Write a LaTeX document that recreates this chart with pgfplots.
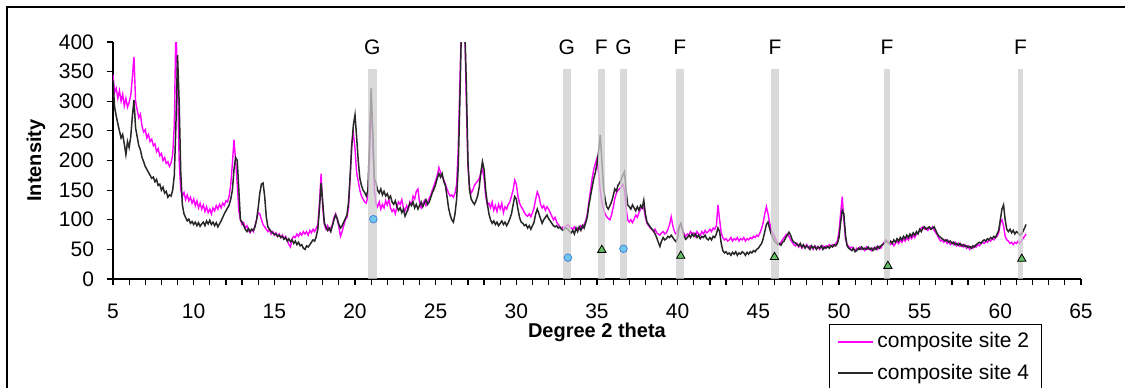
\documentclass[border=0pt]{standalone}
\usepackage{pgfplots}
\pgfplotsset{compat=1.18}
\usepackage{pgfplotstable}
\usepackage{fontspec}
\setmainfont{Liberation Sans}
\definecolor{magc}{RGB}{255,0,255}
\definecolor{blkc}{RGB}{40,40,40}
\definecolor{bandc}{RGB}{205,205,205}
\definecolor{circfill}{RGB}{110,200,235}
\definecolor{circdraw}{RGB}{70,130,220}
\definecolor{trifill}{RGB}{100,190,100}
\pgfplotstableread{
x m b
5.0 345 335
5.1 315 290
5.2 322 275
5.3 305 262
5.4 318 250
5.5 300 238
5.6 312 244
5.7 292 228
5.8 305 210
5.9 290 232
6.0 298 222
6.1 310 240
6.2 340 275
6.3 375 302
6.4 300 255
6.5 285 240
6.6 272 225
6.7 278 218
6.8 258 205
6.9 248 198
7.0 252 190
7.1 238 185
7.2 244 180
7.3 232 175
7.4 236 170
7.5 225 172
7.6 228 164
7.7 215 168
7.8 220 158
7.9 208 160
8.0 212 150
8.1 200 155
8.2 205 145
8.3 195 148
8.4 198 138
8.5 190 142
8.6 196 140
8.7 210 150
8.8 260 175
8.9 430 260
9.0 330 378
9.1 200 300
9.2 150 180
9.3 140 125
9.4 146 110
9.5 134 104
9.6 142 98
9.7 132 101
9.8 138 94
9.9 128 97
10.0 135 92
10.1 124 96
10.2 132 90
10.3 120 95
10.4 128 89
10.5 118 93
10.6 125 96
10.7 114 90
10.8 122 98
10.9 112 93
11.0 118 99
11.1 110 92
11.2 120 96
11.3 115 90
11.4 124 95
11.5 118 88
11.6 126 93
11.7 120 98
11.8 128 104
11.9 124 110
12.0 132 115
12.1 130 120
12.2 140 125
12.3 160 135
12.4 195 150
12.5 235 185
12.6 200 205
12.7 160 200
12.8 115 150
12.9 100 100
13.0 92 96
13.1 95 90
13.2 86 84
13.3 90 80
13.4 82 85
13.5 78 80
13.6 84 84
13.7 80 82
13.8 90 88
13.9 100 100
14.0 112 120
14.1 110 145
14.2 100 160
14.3 92 162
14.4 88 140
14.5 84 105
14.6 80 88
14.7 84 84
14.8 76 80
14.9 80 78
15.0 74 75
15.1 78 76
15.2 72 72
15.3 76 74
15.4 70 70
15.5 74 72
15.6 68 67
15.7 72 70
15.8 66 64
15.9 58 68
16.0 54 63
16.1 68 66
16.2 72 60
16.3 70 64
16.4 76 58
16.5 72 62
16.6 78 56
16.7 74 58
16.8 80 52
16.9 76 50
17.0 80 56
17.1 74 54
17.2 82 58
17.3 78 62
17.4 84 66
17.5 80 64
17.6 86 72
17.7 92 85
17.8 130 120
17.9 178 162
18.0 120 130
18.1 92 95
18.2 84 88
18.3 90 82
18.4 82 86
18.5 86 80
18.6 92 90
18.7 104 100
18.8 110 108
18.9 100 102
19.0 88 92
19.1 72 86
19.2 80 90
19.3 90 96
19.4 100 102
19.5 104 108
19.6 120 130
19.7 170 175
19.8 230 225
19.9 246 260
20.0 220 277
20.1 180 240
20.2 165 200
20.3 150 170
20.4 140 158
20.5 135 150
20.6 130 146
20.7 128 140
20.8 140 150
20.9 200 230
21.0 310 322
21.1 230 250
21.2 150 170
21.3 128 162
21.4 122 150
21.5 130 145
21.6 118 152
21.7 126 142
21.8 120 148
21.9 132 140
22.0 125 144
22.1 135 136
22.2 120 140
22.3 114 130
22.4 118 126
22.5 110 132
22.6 122 122
22.7 130 116
22.8 126 120
22.9 134 112
23.0 120 118
23.1 115 106
23.2 124 112
23.3 118 120
23.4 130 128
23.5 125 124
23.6 140 130
23.7 135 120
23.8 148 126
23.9 152 118
24.0 130 124
24.1 120 130
24.2 126 122
24.3 132 128
24.4 124 134
24.5 130 126
24.6 136 130
24.7 142 138
24.8 150 146
24.9 158 152
25.0 166 160
25.1 175 170
25.2 188 178
25.3 180 172
25.4 172 178
25.5 168 165
25.6 160 158
25.7 152 140
25.8 145 120
25.9 140 108
26.0 142 100
26.1 138 96
26.2 145 110
26.3 160 135
26.4 220 190
26.5 330 300
26.6 430 430
26.7 430 430
26.8 430 430
26.9 300 330
27.0 190 200
27.1 155 150
27.2 145 135
27.3 150 130
27.4 158 126
27.5 162 132
27.6 165 140
27.7 170 155
27.8 178 180
27.9 185 198
28.0 170 185
28.1 140 150
28.2 125 128
28.3 128 110
28.4 120 100
28.5 130 94
28.6 116 98
28.7 124 92
28.8 114 96
28.9 126 90
29.0 118 94
29.1 128 98
29.2 112 92
29.3 122 96
29.4 118 90
29.5 126 95
29.6 130 102
29.7 140 110
29.8 150 125
29.9 167 139
30.0 160 135
30.1 140 118
30.2 128 104
30.3 122 96
30.4 118 94
30.5 112 90
30.6 108 92
30.7 106 86
30.8 110 90
30.9 105 84
31.0 112 90
31.1 120 96
31.2 135 110
31.3 147 118
31.4 140 110
31.5 126 102
31.6 120 94
31.7 124 100
31.8 116 104
31.9 122 108
32.0 118 102
32.1 112 98
32.2 106 94
32.3 100 90
32.4 104 88
32.5 96 90
32.6 92 86
32.7 88 88
32.8 85 84
32.9 88 82
33.0 86 85
33.1 90 86
33.2 92 84
33.3 88 80
33.4 86 78
33.5 84 82
33.6 88 76
33.7 82 86
33.8 86 80
33.9 84 88
34.0 90 82
34.1 86 90
34.2 92 86
34.3 98 95
34.4 110 105
34.5 130 125
34.6 150 140
34.7 170 155
34.8 185 170
34.9 195 180
35.0 204 195
35.1 180 215
35.2 150 243
35.3 130 200
35.4 118 155
35.5 110 135
35.6 105 122
35.7 102 118
35.8 100 124
35.9 108 130
36.0 120 140
36.1 135 152
36.2 145 148
36.3 150 158
36.4 152 162
36.5 155 168
36.6 160 175
36.7 150 181
36.8 120 150
36.9 100 125
37.0 96 122
37.1 100 118
37.2 95 125
37.3 101 120
37.4 108 115
37.5 104 122
37.6 112 116
37.7 118 124
37.8 122 120
37.9 120 133
38.0 104 110
38.1 94 96
38.2 90 92
38.3 86 88
38.4 84 84
38.5 80 82
38.6 84 76
38.7 78 70
38.8 76 62
38.9 74 55
39.0 78 64
39.1 80 70
39.2 76 66
39.3 78 68
39.4 84 72
39.5 92 70
39.6 105 74
39.7 90 70
39.8 80 66
39.9 76 63
40.0 82 70
40.1 90 88
40.2 92 94
40.3 84 82
40.4 76 72
40.5 72 67
40.6 76 70
40.7 74 74
40.8 80 70
40.9 76 76
41.0 78 72
41.1 72 76
41.2 80 70
41.3 76 74
41.4 74 68
41.5 80 72
41.6 76 70
41.7 82 74
41.8 78 68
41.9 80 66
42.0 84 70
42.1 80 66
42.2 86 72
42.3 84 70
42.4 90 76
42.5 125 86
42.6 100 80
42.7 78 60
42.8 70 48
42.9 66 44
43.0 68 46
43.1 64 42
43.2 66 44
43.3 70 40
43.4 64 45
43.5 68 42
43.6 66 46
43.7 70 40
43.8 64 44
43.9 68 42
44.0 66 46
44.1 70 44
44.2 64 40
44.3 68 45
44.4 66 42
44.5 70 46
44.6 68 44
44.7 72 48
44.8 70 46
44.9 74 50
45.0 72 52
45.1 78 56
45.2 85 60
45.3 95 68
45.4 110 80
45.5 122 92
45.6 110 96
45.7 95 85
45.8 82 76
45.9 78 70
46.0 72 64
46.1 66 61
46.2 60 58
46.3 58 60
46.4 62 57
46.5 66 62
46.6 70 64
46.7 74 70
46.8 76 74
46.9 72 79
47.0 66 74
47.1 62 66
47.2 58 62
47.3 56 61
47.4 60 58
47.5 54 56
47.6 58 60
47.7 52 54
47.8 56 58
47.9 54 52
48.0 58 56
48.1 52 54
48.2 56 50
48.3 54 56
48.4 50 52
48.5 56 55
48.6 52 50
48.7 55 54
48.8 50 52
48.9 54 56
49.0 56 50
49.1 52 54
49.2 56 52
49.3 54 55
49.4 58 52
49.5 55 56
49.6 58 54
49.7 56 58
49.8 60 56
49.9 64 60
50.0 80 70
50.1 110 95
50.2 139 116
50.3 100 110
50.4 68 75
50.5 58 56
50.6 55 52
50.7 52 50
50.8 54 48
50.9 50 52
51.0 48 46
51.1 52 48
51.2 50 52
51.3 54 50
51.4 50 54
51.5 52 50
51.6 48 52
51.7 54 50
51.8 50 54
51.9 52 50
52.0 48 52
52.1 52 48
52.2 50 53
52.3 54 50
52.4 50 55
52.5 55 52
52.6 52 56
52.7 58 58
52.8 62 60
52.9 66 64
53.0 64 62
53.1 60 60
53.2 58 64
53.3 62 60
53.4 56 66
53.5 60 62
53.6 64 68
53.7 60 64
53.8 66 70
53.9 62 66
54.0 68 72
54.1 64 68
54.2 70 74
54.3 66 70
54.4 72 76
54.5 68 72
54.6 74 78
54.7 70 74
54.8 76 80
54.9 78 76
55.0 82 84
55.1 86 80
55.2 88 86
55.3 84 88
55.4 86 84
55.5 82 86
55.6 86 88
55.7 84 84
55.8 88 86
55.9 82 88
56.0 78 82
56.1 74 76
56.2 68 72
56.3 64 70
56.4 66 68
56.5 62 66
56.6 66 64
56.7 60 66
56.8 64 62
56.9 58 64
57.0 62 60
57.1 58 62
57.2 62 58
57.3 56 60
57.4 60 57
57.5 55 60
57.6 58 56
57.7 54 58
57.8 58 55
57.9 52 56
58.0 56 53
58.1 50 55
58.2 54 52
58.3 52 56
58.4 56 54
58.5 54 58
58.6 58 60
58.7 56 62
58.8 60 60
58.9 62 64
59.0 60 66
59.1 64 64
59.2 62 68
59.3 66 66
59.4 64 70
59.5 68 68
59.6 66 72
59.7 70 70
59.8 72 76
59.9 78 82
60.0 95 100
60.1 100 118
60.2 90 125
60.3 72 100
60.4 66 84
60.5 64 80
60.6 60 84
60.7 62 78
60.8 58 82
60.9 62 76
61.0 60 80
61.1 64 78
61.2 60 74
61.3 64 76
61.4 68 80
61.5 72 86
61.6 76 92
}\xrd
\begin{document}
\begin{tikzpicture}
\begin{axis}[
  at={(56.5pt,54pt)}, anchor=south west,
  scale only axis, width=484pt, height=118.5pt,
  xmin=5, xmax=65, ymin=0, ymax=400,
  clip mode=individual,
  axis x line=bottom, axis y line=left,
  axis line style={-, line width=0.6pt, black},
  xtick={5,10,...,65}, minor x tick num=4,
  ytick={0,50,...,400},
  tick align=outside,
  major tick length=3pt, minor tick length=3pt,
  tick style={line width=0.6pt, black},
  /pgf/number format/assume math mode=true,
  ticklabel style={font=\fontsize{10.5}{12}\selectfont},
  xticklabel style={yshift=-6pt},
  yticklabel style={xshift=-3pt},
  xlabel={\textbf{Degree 2 theta}},
  ylabel={\textbf{Intensity}},
  label style={font=\fontsize{10}{12}\selectfont},
  xlabel style={yshift=5pt},
  legend style={at={(0.7397,-0.19)}, anchor=north west, draw=black, line width=0.6pt,
    font=\fontsize{10.5}{12}\selectfont, legend cell align=left, row sep=2.5pt,
    inner xsep=4pt, inner ysep=2pt},
]
\addplot[forget plot, draw=magc, line width=0.7pt] table[x=x, y=m] {\xrd};
\addplot[forget plot, draw=blkc, line width=0.75pt] table[x=x, y=b] {\xrd};
\addlegendimage{draw={rgb,255:red,255;green,0;blue,255}, line width=0.8pt}
\addlegendentry{composite site 2}
\addlegendimage{draw=blkc, line width=0.75pt}
\addlegendentry{composite site 4}
% bands
\addplot[forget plot, draw=none, fill=bandc, fill opacity=0.75] coordinates {(20.79,354) (21.35,354)} \closedcycle;
\addplot[forget plot, draw=none, fill=bandc, fill opacity=0.75] coordinates {(32.89,354) (33.37,354)} \closedcycle;
\addplot[forget plot, draw=none, fill=bandc, fill opacity=0.75] coordinates {(35.05,354) (35.49,354)} \closedcycle;
\addplot[forget plot, draw=none, fill=bandc, fill opacity=0.75] coordinates {(36.43,354) (36.85,354)} \closedcycle;
\addplot[forget plot, draw=none, fill=bandc, fill opacity=0.75] coordinates {(39.88,354) (40.38,354)} \closedcycle;
\addplot[forget plot, draw=none, fill=bandc, fill opacity=0.75] coordinates {(45.79,354) (46.29,354)} \closedcycle;
\addplot[forget plot, draw=none, fill=bandc, fill opacity=0.75] coordinates {(52.80,354) (53.16,354)} \closedcycle;
\addplot[forget plot, draw=none, fill=bandc, fill opacity=0.75] coordinates {(61.09,354) (61.41,354)} \closedcycle;
% markers
\addplot[forget plot, only marks, mark=*, mark size=1.9pt, mark options={fill=circfill, draw=circdraw, line width=0.4pt}]
  coordinates {(21.14,101) (33.2,36) (36.64,51)};
\addplot[forget plot, only marks, mark=triangle*, mark size=2.4pt, mark options={fill=trifill, draw=black, line width=0.4pt}]
  coordinates {(35.3,49) (40.19,39) (46.0,37) (53.03,22) (61.33,34)};
% labels
\node[font=\fontsize{10.5}{12}\selectfont] at (axis cs:21.07,391) {G};
\node[font=\fontsize{10.5}{12}\selectfont] at (axis cs:33.13,391) {G};
\node[font=\fontsize{10.5}{12}\selectfont] at (axis cs:35.27,391) {F};
\node[font=\fontsize{10.5}{12}\selectfont] at (axis cs:36.64,391) {G};
\node[font=\fontsize{10.5}{12}\selectfont] at (axis cs:40.13,391) {F};
\node[font=\fontsize{10.5}{12}\selectfont] at (axis cs:46.04,391) {F};
\node[font=\fontsize{10.5}{12}\selectfont] at (axis cs:52.98,391) {F};
\node[font=\fontsize{10.5}{12}\selectfont] at (axis cs:61.25,391) {F};
\end{axis}
\pgfresetboundingbox
\useasboundingbox (0,0) rectangle (562.5pt,193.5pt);
\draw[line width=1.2pt] (3.5pt,-10pt) -- (3.5pt,190pt) -- (580pt,190pt);
\end{tikzpicture}
\end{document}
